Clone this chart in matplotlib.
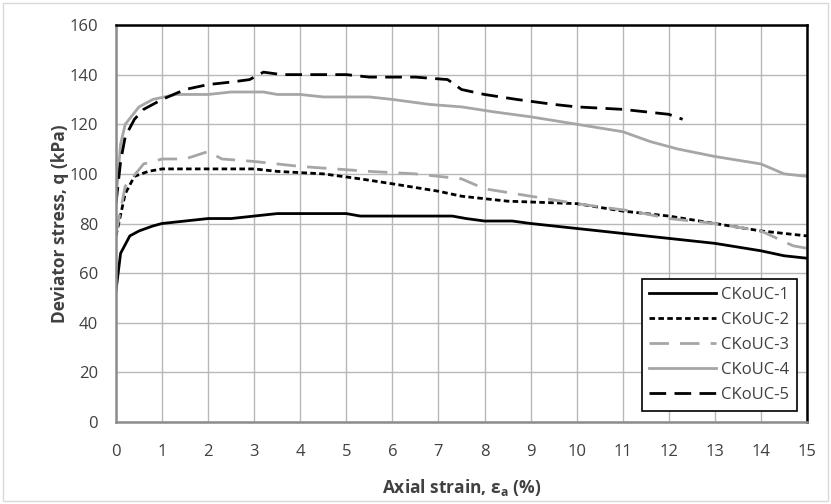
import numpy as np
import matplotlib as mpl
import matplotlib.pyplot as plt

mpl.rcParams['font.family'] = ['Open Sans', 'DejaVu Sans']

# data (axial strain %, deviator stress kPa)
x1 = [0, 0.1, 0.3, 0.5, 0.8, 1.0, 1.5, 2.0, 2.5, 3.0, 3.5, 5.0, 5.3, 7.3, 7.6, 8.0, 8.6, 9.0,
      10.0, 11.0, 12.0, 13.0, 14.0, 14.5, 15.0]
q1 = [53, 68, 75, 77, 79, 80, 81, 82, 82, 83, 84, 84, 83, 83, 82, 81, 81, 80,
      78, 76, 74, 72, 69, 67, 66]

x2 = [0, 0.2, 0.4, 0.7, 1.0, 2.0, 3.0, 3.5, 4.5, 5.3, 6.0, 7.0, 7.5, 8.5, 10.0, 11.0, 12.0,
      13.0, 14.0, 15.0]
q2 = [75, 92, 99, 101, 102, 102, 102, 101, 100, 98, 96, 93, 91, 89, 88, 85, 83,
      80, 77, 75]

x3 = [0, 0.2, 0.6, 1.0, 1.5, 2.0, 2.3, 3.0, 4.0, 5.5, 6.5, 7.5, 8.0, 9.0, 10.0, 11.2, 12.0,
      13.0, 14.0, 14.7, 15.0]
q3 = [76, 95, 104, 106, 106, 109, 106, 105, 103, 101, 100, 98, 94, 91, 88, 85, 82,
      80, 77, 71, 70]

x4 = [0, 0.1, 0.2, 0.5, 0.8, 1.3, 2.0, 2.5, 3.2, 3.5, 4.0, 4.5, 5.5, 6.0, 6.8, 7.5, 8.2,
      9.0, 10.0, 11.0, 11.6, 12.2, 13.0, 14.0, 14.5, 15.0]
q4 = [90, 112, 120, 127, 130, 132, 132, 133, 133, 132, 132, 131, 131, 130, 128, 127, 125,
      123, 120, 117, 113, 110, 107, 104, 100, 99]

x5 = [0, 0.1, 0.2, 0.4, 0.6, 1.0, 1.5, 2.0, 2.5, 2.9, 3.2, 3.6, 5.0, 5.5, 6.5, 7.2, 7.5,
      8.0, 8.7, 9.5, 10.0, 11.0, 11.5, 12.0, 12.3]
q5 = [88, 105, 115, 122, 126, 130, 134, 136, 137, 138, 141, 140, 140, 139, 139, 138, 134,
      132, 130, 128, 127, 126, 125, 124, 122]

labels = ['CKoUC-1', 'CKoUC-2', 'CKoUC-3', 'CKoUC-4', 'CKoUC-5']

fig = plt.figure(figsize=(8.31, 5.04), dpi=100)
ax = fig.add_axes([116 / 831, 82 / 504, 691 / 831, 397 / 504])

ax.plot(x1, q1, color='black', lw=2.0, label=labels[0])
ax.plot(x2, q2, color='black', lw=2.0, ls=(0, (2, 1.2)), label=labels[1])
ax.plot(x3, q3, color='#a6a6a6', lw=2.0, ls=(0, (7, 4)), label=labels[2])
ax.plot(x4, q4, color='#a6a6a6', lw=2.0, label=labels[3])
ax.plot(x5, q5, color='black', lw=2.0, ls=(0, (6, 3)), label=labels[4])

ax.set_xlim(0, 15)
ax.set_ylim(0, 160)
ax.set_xticks(np.arange(0, 16, 1))
ax.set_yticks(np.arange(0, 161, 20))
ax.grid(True, color='#b8b8b8', lw=1.0)
ax.set_axisbelow(True)
ax.tick_params(length=0, labelsize=12, colors='#404040')
ax.tick_params(axis='x', pad=16)
ax.tick_params(axis='y', pad=13)

for s in ['top', 'right']:
    ax.spines[s].set_color('black')
    ax.spines[s].set_linewidth(1.8)
for s in ['left', 'bottom']:
    ax.spines[s].set_color('#8c8c8c')
    ax.spines[s].set_linewidth(1.8)

ax.set_xlabel(r'Axial strain, ε$_\mathregular{a}$ (%)', fontsize=12.5, fontweight='bold',
              color='#404040', labelpad=12)
ax.set_ylabel('Deviator stress, q (kPa)', fontsize=12.5, fontweight='bold',
              color='#404040', labelpad=0)

leg = ax.legend(loc='lower right', bbox_to_anchor=(0.99, 0.02), fontsize=12,
                frameon=True, fancybox=False, edgecolor='black', framealpha=1,
                handlelength=4.0, labelspacing=0.55, borderpad=0.45, handletextpad=0.3,
                borderaxespad=0.2)
leg.get_frame().set_linewidth(1.2)
for t in leg.get_texts():
    t.set_color('#404040')

# outer chart border
fig.patches.append(mpl.patches.Rectangle((3 / 831, 3 / 504), 825 / 831, 498 / 504,
                                         transform=fig.transFigure, fill=False,
                                         edgecolor='#d9d9d9', lw=1))

fig.savefig('out.png', dpi=100)
